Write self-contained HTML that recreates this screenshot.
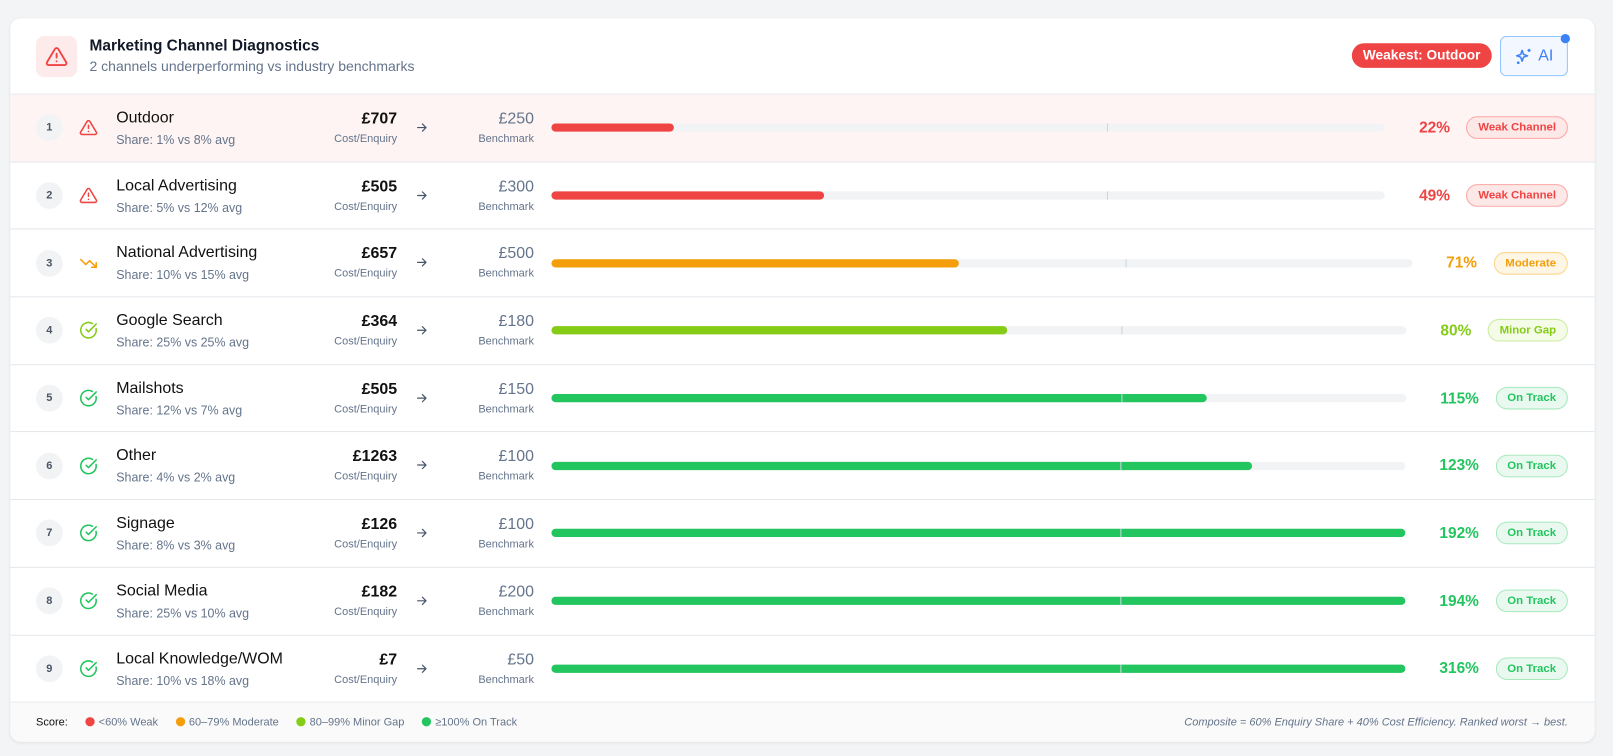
<!DOCTYPE html>
<html><head><meta charset="utf-8"><meta name="viewport" content="width=1613"><style>
*{box-sizing:border-box;margin:0;padding:0}
html{width:1613px;height:756px;overflow:hidden;background:#f3f4f6}
body{width:1613px;height:756px;background:#f3f4f6;font-family:"Liberation Sans",sans-serif;position:relative;overflow:hidden}
#wrap{position:absolute;left:0;top:0;width:1613px;height:756px;transform:scale(1.0288);transform-origin:0 0}
.card{position:absolute;left:10px;top:18px;width:1540px;height:703px;background:#fff;border-radius:10px;box-shadow:0 1px 3px rgba(0,0,0,.08);overflow:hidden}
.hdr{height:74px;border-bottom:1px solid #e5e7eb;position:relative}
.hicon{position:absolute;left:25px;top:17px;width:40px;height:40px;border-radius:8px;background:#fdeaea;display:flex;align-items:center;justify-content:center}
.title{position:absolute;left:77px;top:18px;font-size:15px;font-weight:bold;color:#111827}
.sub{position:absolute;left:77px;top:39px;font-size:13.6px;color:#64748b}
.weak{position:absolute;right:100px;top:24px;height:24px;padding:0 11px;border-radius:12px;background:#ef4444;color:#fff;font-size:13.3px;font-weight:bold;line-height:24px;white-space:nowrap}
.ai{position:absolute;left:1448px;top:17px;width:66px;height:39px;border:1px solid #93c5fd;border-radius:6px;background:#f3f7ff;color:#3b82f6;font-size:15.5px;display:flex;align-items:center;justify-content:center;gap:5px}
.dot{position:absolute;left:1507px;top:15px;width:9px;height:9px;border-radius:50%;background:#3b82f6}
.row{height:65.7px;border-bottom:1px solid #e5e7eb;position:relative;display:flex;align-items:center}
.row.hl{background:#fef4f3}
.rank{position:absolute;left:25px;width:26px;height:26px;border-radius:50%;background:#f1f3f5;color:#4b5563;font-size:10.7px;font-weight:bold;display:flex;align-items:center;justify-content:center}
.ic{position:absolute;left:67px;width:18px;height:18px}
.nm{position:absolute;left:103px;top:14px;font-size:15.5px;color:#111;white-space:nowrap}
.sh{position:absolute;left:103px;top:37px;font-size:12.1px;color:#64748b;white-space:nowrap}
.cost{position:absolute;right:1164px;top:15px;font-size:15.5px;font-weight:bold;color:#111;text-align:right}
.cl{position:absolute;right:1164px;top:37px;font-size:10.7px;color:#64748b}
.arr{position:absolute;left:393px;top:25px;width:14px;height:14px}
.bm{position:absolute;right:1031px;top:15px;font-size:15.5px;color:#64748b}
.bl{position:absolute;right:1031px;top:37px;font-size:10.7px;color:#64748b}
.right{position:absolute;left:526px;right:26px;top:0;height:100%;display:flex;align-items:center}
.bar{flex:1;height:8px;border-radius:4px;background:#f1f3f5;position:relative}
.fill{position:absolute;left:0;top:0;height:8px;border-radius:4px}
.tick{position:absolute;left:66.67%;top:0;width:1px;height:8px;background:#cbd5e1}
.pct{margin-left:33px;margin-right:16px;font-size:15px;font-weight:bold}
.bd{height:22px;border-radius:11px;padding:0 10.5px;font-size:11.1px;font-weight:bold;line-height:20px;border:1px solid;white-space:nowrap}
.red{color:#ef4444}.org{color:#f59e0b}.lim{color:#84cc16}.grn{color:#22c55e}
.b-red{background:#fde8e8;border-color:#fca5a5;color:#ef4444}
.b-org{background:#fef6e4;border-color:#fcd58a;color:#f59e0b}
.b-lim{background:#f4fbe6;border-color:#cdeba0;color:#84cc16}
.b-grn{background:#e9f9ef;border-color:#a7e8bd;color:#22c55e}
.foot{position:absolute;left:0;right:0;bottom:0;height:38px;background:#fafafa;font-size:10.7px;color:#64748b}
.foot .l{position:absolute;left:25px;top:13px;display:flex;gap:17px;align-items:center}
.foot .l span i{display:inline-block;width:9px;height:9px;border-radius:50%;margin-right:4px;vertical-align:-1px}
.foot .r{position:absolute;right:26px;top:13px;font-style:italic}
</style></head><body>
<div id="wrap">
<div class="card">
<div class="hdr">
<div class="hicon"><svg width="22" height="22" viewBox="0 0 24 24" fill="none" stroke="#ef4444" stroke-width="2" stroke-linecap="round" stroke-linejoin="round"><path d="M10.3 3.9L1.8 18a2 2 0 0 0 1.7 3h17a2 2 0 0 0 1.7-3L13.7 3.9a2 2 0 0 0-3.4 0z"/><line x1="12" y1="9" x2="12" y2="13"/><line x1="12" y1="17" x2="12" y2="17"/></svg></div>
<div class="title">Marketing Channel Diagnostics</div>
<div class="sub">2 channels underperforming vs industry benchmarks</div>
<div class="weak">Weakest: Outdoor</div>
<div class="ai"><svg width="18" height="18" viewBox="0 0 24 24" fill="none" stroke="#3b82f6" stroke-width="2" stroke-linejoin="round"><path d="M10 4l1.8 5.2L17 11l-5.2 1.8L10 18l-1.8-5.2L3 11l5.2-1.8z"/><path d="M19 2v4M17 4h4"/><circle cx="5" cy="20" r=".8"/></svg>AI</div>
<div class="dot"></div>
</div>
<div id="rows"></div>
<div class="foot">
<div class="l"><span style="color:#111">Score:</span><span><i style="background:#ef4444"></i>&lt;60% Weak</span><span><i style="background:#f59e0b"></i>60–79% Moderate</span><span><i style="background:#84cc16"></i>80–99% Minor Gap</span><span><i style="background:#22c55e"></i>≥100% On Track</span></div>
<div class="r">Composite = 60% Enquiry Share + 40% Cost Efficiency. Ranked worst → best.</div>
</div>
</div>
</div>
<script>
var d=[["Outdoor","1%","8%","£707","£250",22,"red","Weak Channel","warn"],
["Local Advertising","5%","12%","£505","£300",49,"red","Weak Channel","warn"],
["National Advertising","10%","15%","£657","£500",71,"org","Moderate","down"],
["Google Search","25%","25%","£364","£180",80,"lim","Minor Gap","ok"],
["Mailshots","12%","7%","£505","£150",115,"grn","On Track","ok"],
["Other","4%","2%","£1263","£100",123,"grn","On Track","ok"],
["Signage","8%","3%","£126","£100",192,"grn","On Track","ok"],
["Social Media","25%","10%","£182","£200",194,"grn","On Track","ok"],
["Local Knowledge/WOM","10%","18%","£7","£50",316,"grn","On Track","ok"]];
var col={red:"#ef4444",org:"#f59e0b",lim:"#84cc16",grn:"#22c55e"};
var h="";
d.forEach(function(r,i){
var c=col[r[6]],ic;
if(r[8]=="warn")ic='<path d="M10.3 3.9L1.8 18a2 2 0 0 0 1.7 3h17a2 2 0 0 0 1.7-3L13.7 3.9a2 2 0 0 0-3.4 0z"/><line x1="12" y1="9" x2="12" y2="13"/><line x1="12" y1="17" x2="12" y2="17"/>';
else if(r[8]=="down")ic='<polyline points="22 17 13.5 8.5 8.5 13.5 2 7"/><polyline points="16 17 22 17 22 11"/>';
else ic='<path d="M21.8 10A10 10 0 1 1 17 3.3"/><path d="M9 11l3 3L22 4"/>';
var w=Math.min(r[5]/150*100,100);
h+='<div class="row'+(i==0?' hl':'')+'"><div class="rank">'+(i+1)+'</div><svg class="ic" viewBox="0 0 24 24" fill="none" stroke="'+c+'" stroke-width="2" stroke-linecap="round" stroke-linejoin="round">'+ic+'</svg>'+
'<div class="nm">'+r[0]+'</div><div class="sh">Share: '+r[1]+' vs '+r[2]+' avg</div><div class="cost">'+r[3]+'</div><div class="cl">Cost/Enquiry</div><svg class="arr" viewBox="0 0 24 24" fill="none" stroke="#475569" stroke-width="2" stroke-linecap="round" stroke-linejoin="round"><path d="M5 12h14M13 6l6 6-6 6"/></svg><div class="bm">'+r[4]+'</div><div class="bl">Benchmark</div>'+
'<div class="right"><div class="bar"><div class="fill" style="width:'+w+'%;background:'+c+'"></div><div class="tick"></div></div><div class="pct '+r[6]+'">'+r[5]+'%</div><div class="bd b-'+r[6]+'">'+r[7]+'</div></div></div>';
});
document.getElementById("rows").innerHTML=h;
</script>
</body></html>
